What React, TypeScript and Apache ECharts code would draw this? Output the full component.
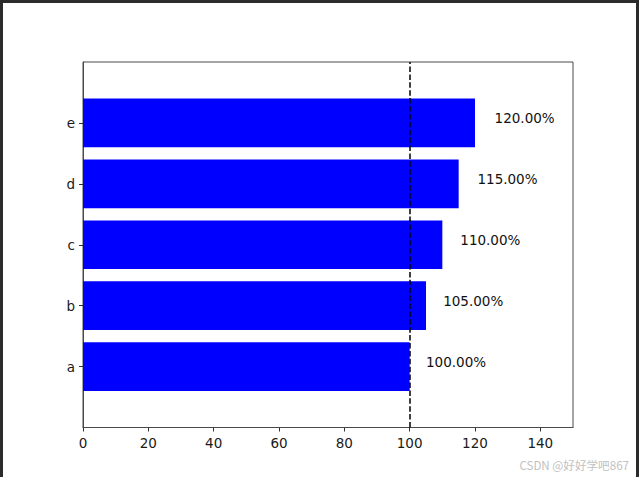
import React, { useEffect, useRef } from "react";
import * as echarts from "echarts";

const categories = ["a", "b", "c", "d", "e"];
const values = [100, 105, 110, 115, 120];
const xTicks = [0, 20, 40, 60, 80, 100, 120, 140];
const refValue = 100;
const watermark = "CSDN @好好学吧867";

const FONT = "DejaVu Sans";

export default function App() {
  const ref = useRef<HTMLDivElement>(null);
  useEffect(() => {
    if (!ref.current) return;
    const chart = echarts.init(ref.current, null, { renderer: "svg" });
    const axisCats = ["", ...categories, ""];
    const barData = [null, ...values, null];
    const labelData = values.map((v, i) => [v * 1.05, i + 1, v]);
    chart.setOption({
      animation: false,
      backgroundColor: "#ffffff",
      textStyle: { fontFamily: FONT },
      grid: {
        left: 83,
        top: 62,
        width: 490,
        height: 365.5,
        show: true,
        borderColor: "#4a4a4a",
        borderWidth: 1,
        backgroundColor: "transparent",
      },
      xAxis: {
        type: "value",
        min: 0,
        max: 150,
        interval: 20,
        splitLine: { show: false },
        axisLine: { show: true, lineStyle: { color: "#4a4a4a", width: 1 } },
        axisTick: {
          show: true,
          length: 4,
          customValues: xTicks,
          lineStyle: { color: "#333", width: 1 },
        },
        axisLabel: {
          customValues: xTicks,
          margin: 8,
          color: "#1a1a1a",
          fontSize: 13.5,
          fontFamily: FONT,
        },
      },
      yAxis: {
        type: "category",
        data: axisCats,
        boundaryGap: false,
        splitLine: { show: false },
        axisLine: { show: true, lineStyle: { color: "#4a4a4a", width: 1 } },
        axisTick: {
          show: true,
          length: 4,
          interval: (i: number) => i > 0 && i < axisCats.length - 1,
          lineStyle: { color: "#333", width: 1 },
        },
        axisLabel: {
          interval: (i: number) => i > 0 && i < axisCats.length - 1,
          margin: 8,
          color: "#1a1a1a",
          fontSize: 13.5,
          fontFamily: FONT,
        },
      },
      series: [
        {
          type: "bar",
          data: barData,
          barWidth: "80%",
          itemStyle: { color: "#0000ff" },
          silent: true,
          markLine: {
            silent: true,
            symbol: "none",
            label: { show: false },
            lineStyle: { color: "#000", type: [5.5, 2.4], width: 1.5 },
            data: [{ xAxis: refValue }],
          },
        },
        {
          type: "scatter",
          data: labelData,
          symbolSize: 0,
          silent: true,
          itemStyle: { opacity: 1 },
          label: {
            show: true,
            position: "right",
            distance: 0,
            offset: [0, -4.5],
            color: "#111",
            opacity: 1,
            fontSize: 13.5,
            fontFamily: FONT,
            formatter: (p: any) => p.value[2].toFixed(2) + "%",
          },
        },
      ],
      graphic: [
        { type: "rect", left: 0, top: 0, shape: { x: 0, y: 0, width: 639, height: 3 }, style: { fill: "#2b2b2b" } },
        { type: "rect", left: 0, top: 0, shape: { x: 0, y: 0, width: 3, height: 477 }, style: { fill: "#2b2b2b" } },
        { type: "rect", right: 0, top: 0, shape: { x: 0, y: 0, width: 3, height: 477 }, style: { fill: "#2b2b2b" } },
        {
          type: "text",
          right: 10,
          top: 459.5,
          style: {
            text: watermark,
            fill: "#c2c2c2",
            fontSize: 11.6,
            fontFamily: "Noto Sans CJK SC",
          },
        },
      ],
    });
    return () => chart.dispose();
  }, []);
  return (
    <div
      ref={ref}
      style={{ position: "fixed", left: 0, top: 0, width: 639, height: 477 }}
    />
  );
}
